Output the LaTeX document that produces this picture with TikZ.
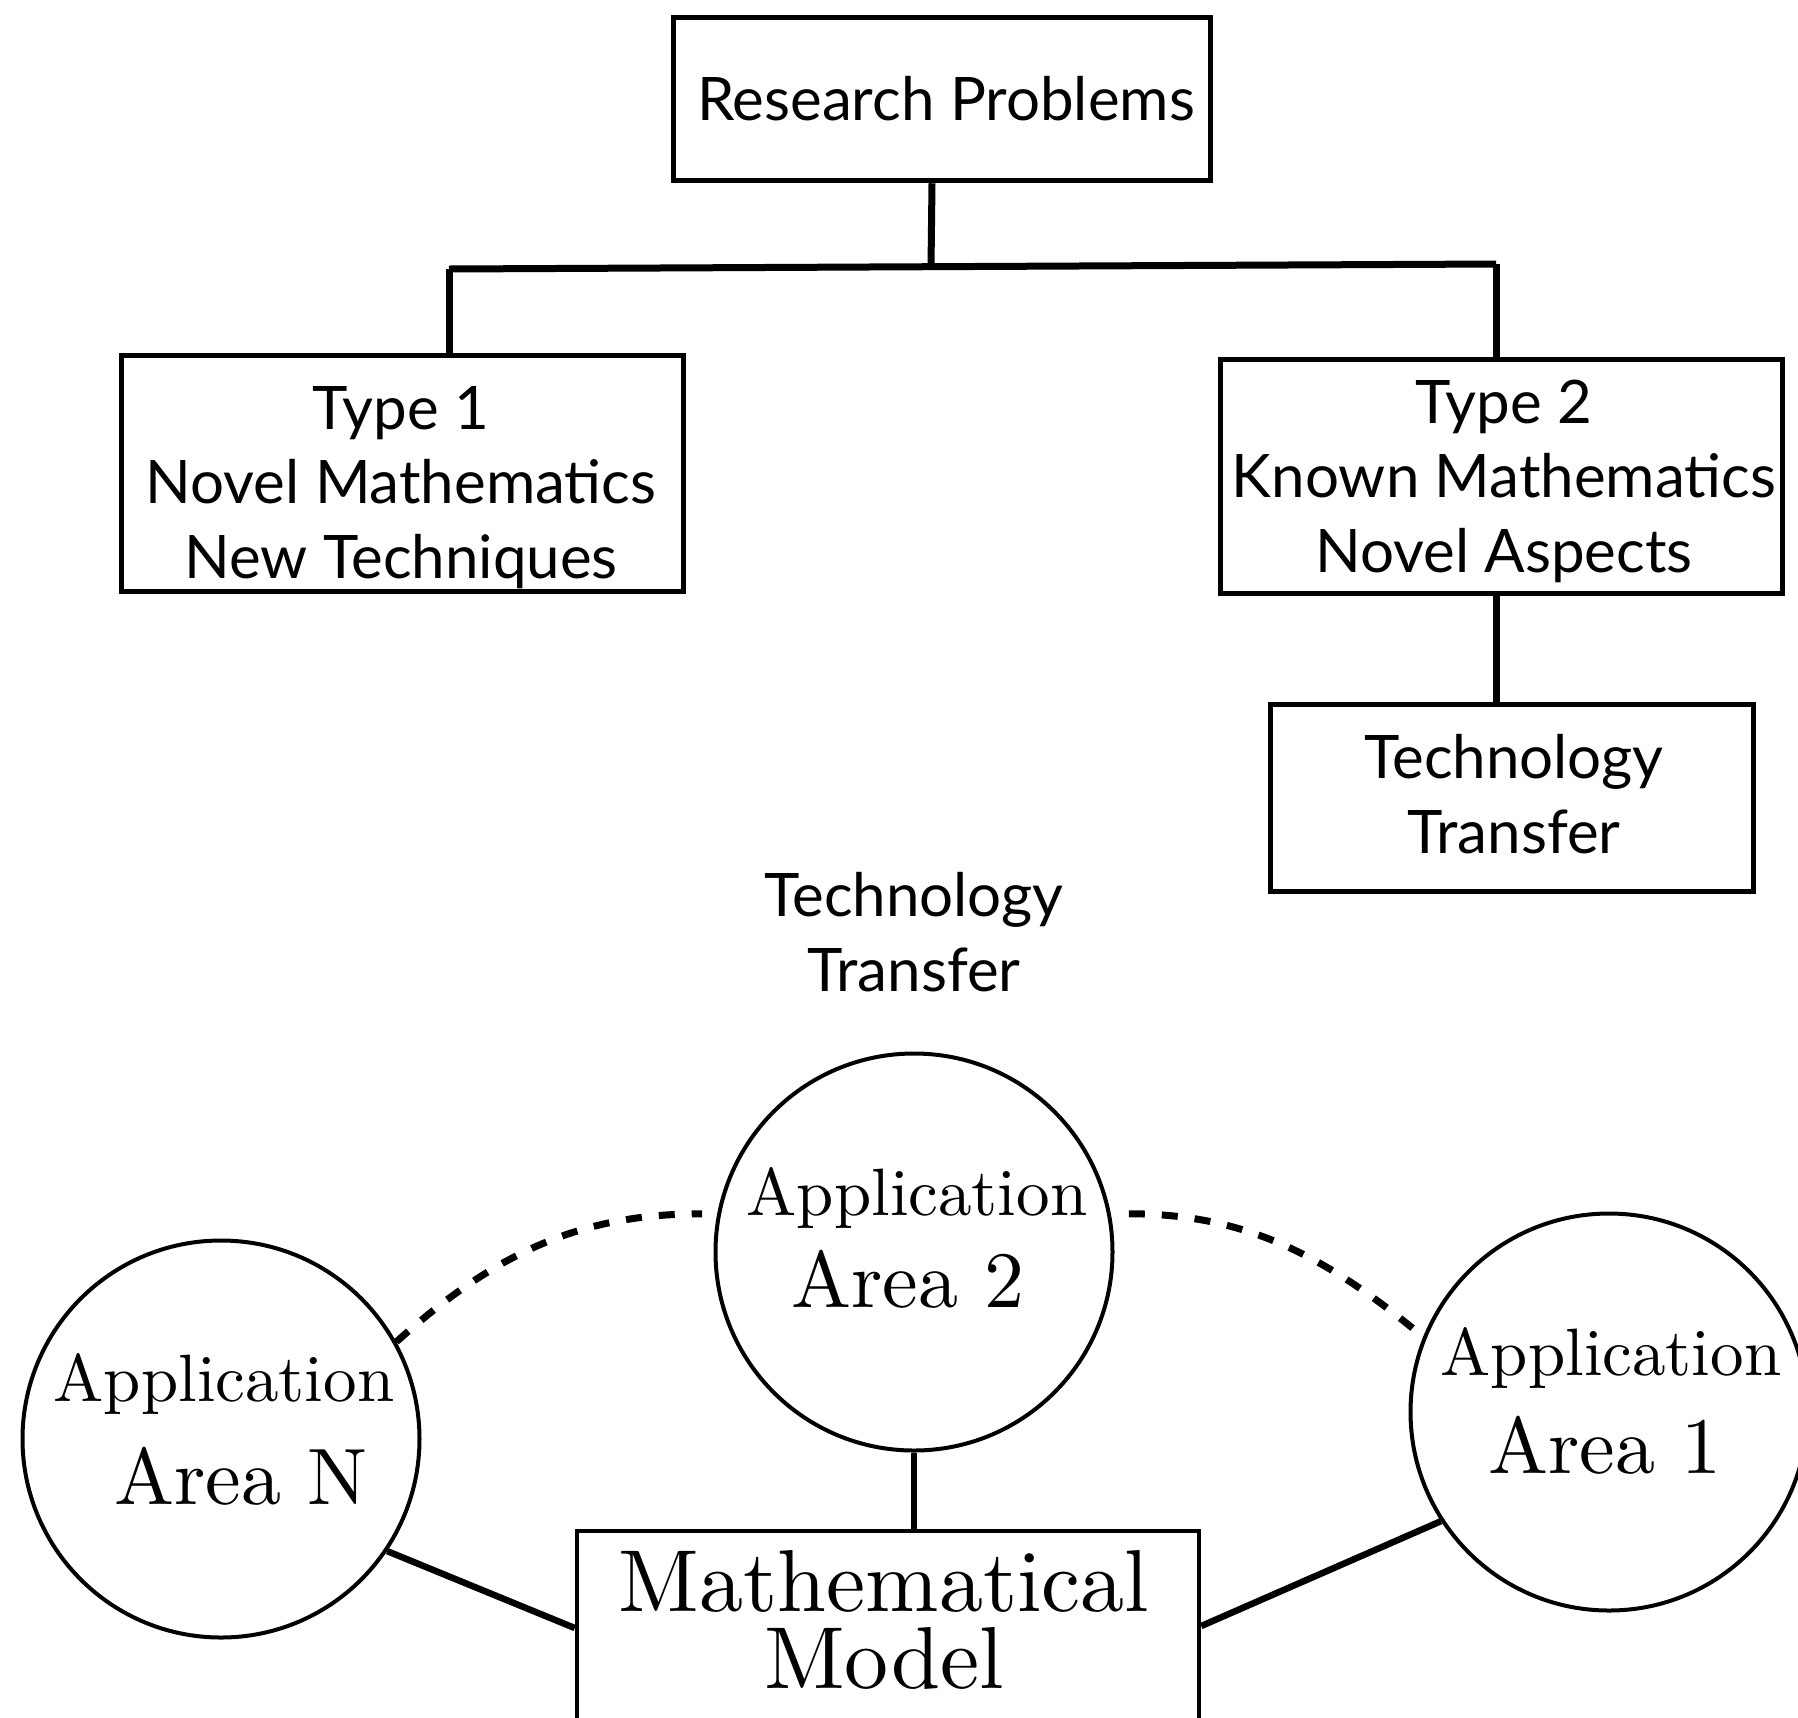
\documentclass[tikz,border=0pt]{standalone}
\usepackage{fontspec}
\newfontfamily\gillish{Lato}
\newfontfamily\lmten{lmroman10-regular}[Extension=.otf]
\usetikzlibrary{calc}
\begin{document}
\begin{tikzpicture}[x=1pt,y=-1pt,
  box/.style={draw, line width=5.5pt, rectangle, inner sep=0pt},
  circ/.style={draw, line width=4pt, circle, inner sep=0pt, minimum size=397pt},
  sanstext/.style={font=\gillish\fontsize{60}{74.5}\selectfont, align=center, anchor=base, inner sep=0pt},
  apptext/.style={font=\lmten\fontsize{67}{80}\selectfont, anchor=base, inner sep=0pt},
  areatext/.style={font=\lmten\fontsize{80}{96}\selectfont, anchor=base, inner sep=0pt},
  modeltext/.style={font=\lmten\fontsize{88}{77}\selectfont, align=center, anchor=base, inner sep=0pt},
  tree/.style={line width=7pt},
  link/.style={line width=6.5pt},
  dashlink/.style={line width=7pt, dash pattern=on 16pt off 17pt}]
\useasboundingbox (0,0) rectangle (1798,1717);
\clip (0,0) rectangle (1798,1717);

% boxes
\node[box, minimum width=537pt, minimum height=163pt] (RP) at (942,99) {};
\node[box, minimum width=562pt, minimum height=236pt] (T1) at (402.5,473.5) {};
\node[box, minimum width=562pt, minimum height=234pt] (T2) at (1501.5,476.5) {};
\node[box, minimum width=483pt, minimum height=187pt] (TT) at (1512,798) {};
\node[box, line width=4.5pt, minimum width=622pt, minimum height=300pt] (MM) at (888,1681) {};

% circles
\node[circ] (A2) at (914,1252) {};
\node[circ] (AN) at (221,1439) {};
\node[circ] (A1) at (1609,1412) {};

% texts
\node[sanstext] (RPt) at (946,120) {Research Problems};
\node[sanstext] (T1t) at (401,578) {Type 1\\Novel Mathematics\\New Techniques};
\node[sanstext] (T2t) at (1504,572) {Type 2\\Known Mathematics\\Novel Aspects};
\node[sanstext] (TTt) at (1514,853) {Technology\\Transfer};
\node[sanstext] (FTt) at (914,991) {Technology\\Transfer};

\node[apptext] (A2a) at (917,1215) {Application};
\node[areatext] (A2b) at (908,1307) {Area 2};
\node[apptext] (ANa) at (224,1401) {Application};
\node[areatext] (ANb) at (241,1504) {Area N};
\node[apptext] (A1a) at (1611,1375) {Application};
\node[areatext] (A1b) at (1605,1473) {Area 1};
\node[modeltext] (MMt) at (884,1688) {Mathematical\\Model};

% tree connectors
\coordinate (jm) at (931,267);
\coordinate (jl) at (449,269);
\coordinate (jr) at (1496,264);
\draw[tree] ($(RP.south)+(-10,0)$) -- (jm);
\draw[tree] (jl) -- (jr);
\draw[tree] (jl) -- (jl |- T1.north);
\draw[tree] (jr) -- (jr |- T2.north);
\draw[tree] (T2.south -| jr) -- (jr |- TT.north);

% model connectors
\draw[link] (A2.south) -- (A2.south |- MM.north);
\draw[link] (AN.-34) -- (MM.north west |- 0,1628);
\draw[link] (A1.213) -- (MM.north east |- 0,1626);

% dashed connectors
\draw[dashlink, shorten >=15pt] (AN.29) to[out=42, in=180] (A2.169);
\draw[dashlink, shorten <=18pt] (A2.11) to[out=0, in=140] (A1.158);
\end{tikzpicture}
\end{document}
